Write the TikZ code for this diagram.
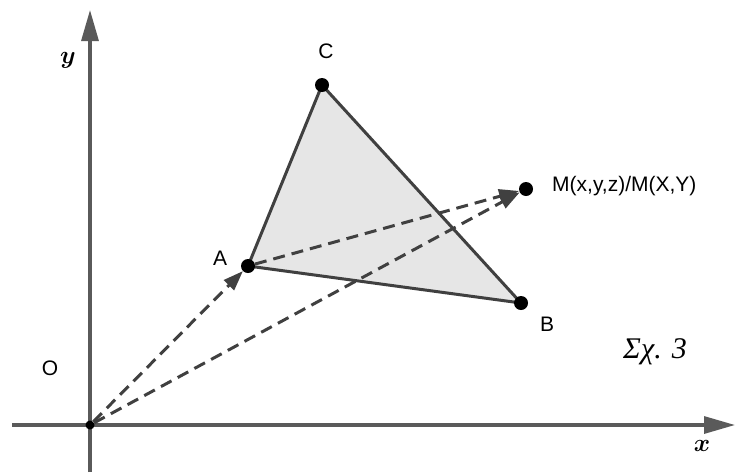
\documentclass[tikz,border=0pt]{standalone}
\usepackage{fontspec}
\usepackage{amsmath}
\setmainfont{Liberation Serif}
\newfontfamily\lblfont{Liberation Sans}
\usetikzlibrary{arrows.meta,backgrounds}
\definecolor{axiscol}{HTML}{5A5A5A}
\definecolor{linecol}{HTML}{404040}
\definecolor{trifill}{HTML}{E6E6E6}
\tikzset{
  axis/.style={draw=axiscol, line width=3.2pt, -{Triangle[length=31pt,width=17pt]}},
  dot/.style={circle, fill=black, inner sep=0pt, minimum size=14pt},
  smalldot/.style={circle, fill=black, inner sep=0pt, minimum size=9pt},
  vec/.style={draw=linecol, line width=3pt, dash pattern=on 12pt off 7pt, -{Triangle[length=20pt,width=14pt]}},
  edge/.style={draw=linecol, line width=3pt, line join=round},
  lbl/.style={font=\lblfont\fontsize{21}{25}\selectfont, text=black, inner sep=0pt},
  axlbl/.style={font=\fontsize{30}{35}\selectfont, inner sep=0pt},
}
\begin{document}
\begin{tikzpicture}[x=1pt,y=-1pt]
\useasboundingbox (0,0) rectangle (735,472);
% axes
\coordinate (xs) at (12,425);
\coordinate (xe) at (735,425);
\coordinate (ys) at (90,472);
\coordinate (ye) at (90,10);
\draw[axis] (xs) -- (xe);
\draw[axis] (ys) -- (ye);
% points
\node[smalldot] (O) at (90,425) {};
\node[dot] (A) at (248,266) {};
\node[dot] (B) at (521,303) {};
\node[dot] (C) at (322,85) {};
\node[dot] (M) at (526,189) {};
% triangle
\begin{scope}[on background layer]
\fill[trifill] (A.center) -- (B.center) -- (C.center) -- cycle;
\draw[edge] (A.center) -- (B.center) -- (C.center) -- cycle;
\end{scope}
% vectors
\draw[vec] (O) -- (A);
\draw[vec] (O) -- (M);
\draw[vec] (A) -- (M);
% labels
\node[lbl] (lO) at (50,368) {O};
\node[lbl] (lA) at (220,258) {A};
\node[lbl] (lB) at (547,324) {B};
\node[lbl] (lC) at (326,51) {C};
\node[lbl, anchor=west] (lM) at (552,186) {M(x,y,z)/M(X,Y)};
\node[axlbl] (ly) at (68,60) {$\boldsymbol{y}$};
\node[axlbl] (lx) at (702,446) {$\boldsymbol{x}$};
\node[font=\fontsize{30}{35}\selectfont\itshape, inner sep=0pt] (fig) at (655,352) {Σχ. 3};
\end{tikzpicture}
\end{document}
